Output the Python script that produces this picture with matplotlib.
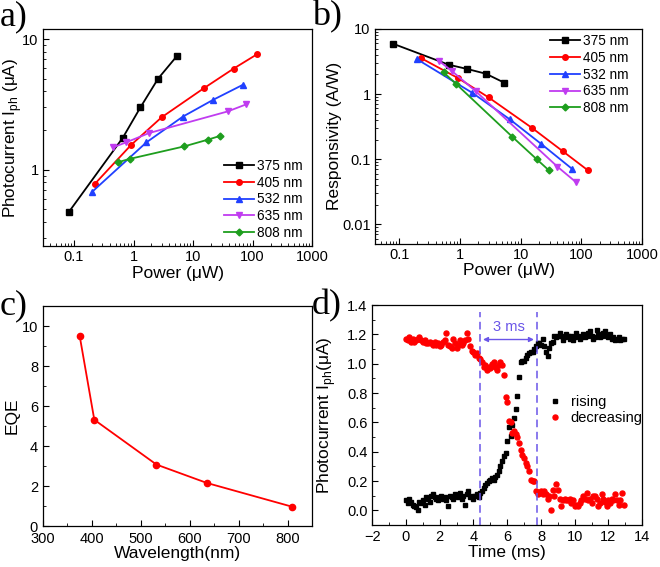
import matplotlib
matplotlib.use("Agg")
import matplotlib.pyplot as plt
import numpy as np
from matplotlib.ticker import FuncFormatter, LogLocator, AutoMinorLocator, MultipleLocator

plt.rcParams.update({
    "font.family": ["Liberation Sans", "DejaVu Sans"],
    "font.size": 9,
    "xtick.direction": "in",
    "ytick.direction": "in",
    "axes.linewidth": 0.9,
})

# ---- data ----
labels = ["375 nm", "405 nm", "532 nm", "635 nm", "808 nm"]
colors = ["black", "#ff0000", "#2040ff", "#c03cf0", "#1e9e1e"]
markers = ["s", "o", "^", "v", "D"]

# a) photocurrent vs power
pa_375 = [0.082, 0.66, 1.30, 2.59, 5.3]
ia_375 = [0.475, 1.76, 3.0, 5.0, 7.4]
pa_405 = [0.224, 0.91, 2.95, 15.0, 48, 120]
ia_405 = [0.78, 1.55, 2.52, 4.2, 5.96, 7.7]
pa_532 = [0.20, 1.64, 6.7, 21.6, 68.7]
ia_532 = [0.675, 1.62, 2.55, 3.43, 4.48]
pa_635 = [0.46, 0.75, 1.82, 38.3, 78]
ia_635 = [1.49, 1.62, 1.91, 2.80, 3.17]
pa_808 = [0.54, 0.855, 7.1, 17.7, 28.7]
ia_808 = [1.14, 1.21, 1.51, 1.70, 1.82]

# b) responsivity vs power
pb_375 = [0.079, 0.656, 1.33, 2.68, 5.4]
rb_375 = [5.94, 2.82, 2.42, 2.05, 1.49]
pb_405 = [0.227, 0.93, 2.97, 15.5, 50, 126]
rb_405 = [3.58, 1.76, 0.887, 0.30, 0.131, 0.068]
pb_532 = [0.195, 1.61, 6.6, 22, 70]
rb_532 = [3.45, 1.04, 0.41, 0.17, 0.071]
pb_635 = [0.46, 0.75, 1.83, 40, 82]
rb_635 = [3.2, 2.23, 1.1, 0.077, 0.044]
pb_808 = [0.54, 0.86, 7.3, 18.3, 29.3]
rb_808 = [2.15, 1.44, 0.22, 0.10, 0.067]

# c) EQE vs wavelength
wavelength = [375, 405, 532, 635, 808]
eqe = [9.53, 5.32, 3.08, 2.16, 0.98]

# d) time response, sampled every 0.1 ms from 0 to 12.9 ms
time_ms = np.round(np.arange(0, 13.0, 0.1), 1)
rising = [
    0.07, 0.05, 0.08, 0.06, 0.04, 0.03, 0.02, 0.00, 0.06, 0.05,
    0.07, 0.04, 0.09, 0.08, 0.06, 0.10, 0.11, 0.09, 0.08, 0.07,
    0.09, 0.10, 0.08, 0.09, 0.07, 0.03, 0.10, 0.09, 0.08, 0.11,
    0.10, 0.09, 0.12, 0.08, 0.10, 0.04, 0.11, 0.13, 0.09, 0.10,
    0.08, 0.10, 0.11, 0.09, 0.12, 0.13, 0.15, 0.17, 0.19, 0.20,
    0.21, 0.22, 0.21, 0.23, 0.24, 0.27, 0.30, 0.34, 0.37, 0.39,
    0.47, 0.57, 0.51, 0.58, 0.63, 0.69, 0.78, 0.91, 1.01, 1.02,
    1.02, 1.04, 1.06, 1.07, 1.08, 1.08, 1.10, 1.12, 1.14, 1.14,
    1.13, 1.17, 1.12, 1.08, 1.05, 1.11, 1.14, 1.15, 1.19, 1.18,
    1.19, 1.21, 1.19, 1.16, 1.18, 1.20, 1.19, 1.17, 1.19, 1.16,
    1.18, 1.21, 1.19, 1.17, 1.18, 1.20, 1.18, 1.19, 1.21, 1.22,
    1.19, 1.17, 1.18, 1.23, 1.20, 1.18, 1.19, 1.21, 1.22, 1.19,
    1.18, 1.20, 1.17, 1.18, 1.16, 1.17, 1.18, 1.16, 1.17, 1.17,
]
decreasing = [
    1.17, 1.16, 1.18, 1.15, 1.17, 1.15, 1.16, 1.17, 1.18, 1.16,
    1.15, 1.16, 1.14, 1.14, 1.15, 1.14, 1.13, 1.15, 1.13, 1.14,
    1.12, 1.13, 1.15, 1.16, 1.21, 1.13, 1.12, 1.11, 1.17, 1.14,
    1.11, 1.13, 1.16, 1.13, 1.14, 1.16, 1.21, 1.17, 1.12, 1.09,
    1.08, 1.06, 1.07, 1.04, 1.03, 1.01, 0.98, 0.99, 0.96, 0.98,
    0.97, 1.00, 1.01, 0.98, 0.96, 0.99, 1.01, 0.99, 0.92, 0.77,
    0.74, 0.61, 0.60, 0.53, 0.54, 0.52, 0.50, 0.46, 0.41, 0.38,
    0.36, 0.32, 0.30, 0.27, 0.21, 0.20, 0.20, 0.13, 0.11, 0.12,
    0.13, 0.11, 0.13, 0.11, 0.08, 0.10, 0.00, 0.14, 0.10, 0.18,
    0.14, 0.08, 0.03, 0.07, 0.08, 0.07, 0.07, 0.08, 0.05, 0.07,
    0.03, 0.04, 0.03, 0.05, 0.07, 0.10, 0.08, 0.12, 0.07, 0.08,
    0.05, 0.10, 0.10, 0.08, 0.03, 0.05, 0.11, 0.08, 0.06, 0.03,
    0.07, 0.05, 0.08, 0.07, 0.11, 0.07, 0.04, 0.07, 0.12, 0.04,
]
t_on, t_off = 4.4, 7.75

fig = plt.figure(figsize=(6.6, 5.67), dpi=100)
ax_a = fig.add_axes([0.065, 0.566, 0.408, 0.383])
ax_b = fig.add_axes([0.568, 0.570, 0.405, 0.379])
ax_c = fig.add_axes([0.065, 0.072, 0.408, 0.388])
ax_d = fig.add_axes([0.564, 0.074, 0.409, 0.388])

plain = FuncFormatter(lambda v, _: f"{v:g}")


def style_log(ax):
    ax.set_xscale("log")
    ax.set_yscale("log")
    ax.xaxis.set_major_locator(LogLocator(base=10, numticks=10))
    ax.xaxis.set_minor_locator(LogLocator(base=10, subs=np.arange(2, 10), numticks=20))
    ax.yaxis.set_minor_locator(LogLocator(base=10, subs=np.arange(2, 10), numticks=20))
    ax.xaxis.set_major_formatter(plain)
    ax.yaxis.set_major_formatter(plain)
    ax.tick_params(which="major", length=4, labelsize=10.5, pad=3)
    ax.tick_params(which="minor", length=2)


leg_kw = dict(frameon=False, fontsize=9.8, handlelength=2.2, handletextpad=0.25,
              labelspacing=0.2, borderaxespad=0.3)

# a)
sets_a = [(pa_375, ia_375), (pa_405, ia_405), (pa_532, ia_532), (pa_635, ia_635), (pa_808, ia_808)]
for (x, y), c, m, lab in zip(sets_a, colors, markers, labels):
    ax_a.plot(x, y, color=c, marker=m, ms=4 if m != "D" else 3.5, lw=1.3, label=lab)
style_log(ax_a)
ax_a.set_xlim(0.03, 1000)
ax_a.set_ylim(0.26, 12)
ax_a.yaxis.set_major_locator(LogLocator(base=10, subs=[1.0], numticks=5))
ax_a.set_xlabel("Power (\u03bcW)", fontsize=12.5, labelpad=1)
ax_a.set_ylabel("Photocurrent I$_{\\mathregular{ph}}$ (\u03bcA)", fontsize=12.3)
ax_a.yaxis.set_label_coords(-0.07, 0.5)
ax_a.legend(loc="lower right", bbox_to_anchor=(1.0, -0.015), **leg_kw)

# b)
sets_b = [(pb_375, rb_375), (pb_405, rb_405), (pb_532, rb_532), (pb_635, rb_635), (pb_808, rb_808)]
for (x, y), c, m, lab in zip(sets_b, colors, markers, labels):
    ax_b.plot(x, y, color=c, marker=m, ms=4 if m != "D" else 3.5, lw=1.3, label=lab)
style_log(ax_b)
ax_b.set_xlim(0.04, 1000)
ax_b.set_ylim(0.005, 10)
ax_b.set_xlabel("Power (\u03bcW)", fontsize=12.5, labelpad=1)
ax_b.set_ylabel("Responsivity (A/W)", fontsize=12.5)
ax_b.yaxis.set_label_coords(-0.124, 0.5)
ax_b.legend(loc="upper right", bbox_to_anchor=(0.985, 1.02), **leg_kw)

# c)
ax_c.plot(wavelength, eqe, color="#ff0000", marker="o", ms=4.5, lw=1.3)
ax_c.set_xlim(300, 850)
ax_c.set_ylim(0, 11)
ax_c.xaxis.set_major_locator(MultipleLocator(100))
ax_c.yaxis.set_major_locator(MultipleLocator(2))
ax_c.xaxis.set_minor_locator(AutoMinorLocator(2))
ax_c.yaxis.set_minor_locator(AutoMinorLocator(2))
ax_c.tick_params(which="major", length=4, labelsize=10.5)
ax_c.tick_params(which="minor", length=2)
ax_c.tick_params(axis="x", pad=4.5)
ax_c.set_xlabel("Wavelength(nm)", fontsize=12.5, labelpad=0)
ax_c.set_ylabel("EQE", fontsize=12.5)
ax_c.yaxis.set_label_coords(-0.085, 0.5)

# d)
ax_d.plot(time_ms, rising, ls="none", marker="s", ms=3.3, color="black", label="rising")
ax_d.plot(time_ms, decreasing, ls="none", marker="o", ms=3.6, color="#ff0000", label="decreasing")
dash_c = "#6a55e8"
for tv in (t_on, t_off):
    ax_d.plot([tv, tv], [-0.1, 1.35], color=dash_c, ls=(0, (5, 3)), lw=1.1)
ax_d.annotate("", xy=(t_on, 1.165), xytext=(t_off, 1.165),
              arrowprops=dict(arrowstyle="<|-|>", color=dash_c, lw=1.0, mutation_scale=7))
ax_d.text((t_on + t_off) / 2, 1.205, "3 ms", color=dash_c, ha="center", va="bottom", fontsize=10.5)
ax_d.set_xlim(-2, 14)
ax_d.set_ylim(-0.1, 1.4)
ax_d.xaxis.set_major_locator(MultipleLocator(2))
ax_d.yaxis.set_major_locator(MultipleLocator(0.2))
ax_d.xaxis.set_minor_locator(AutoMinorLocator(2))
ax_d.yaxis.set_minor_locator(AutoMinorLocator(2))
ax_d.yaxis.set_major_formatter(FuncFormatter(lambda v, _: f"{v:.1f}"))
ax_d.tick_params(which="major", length=4, labelsize=10.5)
ax_d.tick_params(which="minor", length=2)
ax_d.set_xlabel("Time (ms)", fontsize=12.5, labelpad=1)
ax_d.set_ylabel("Photocurrent I$_{\\mathregular{ph}}$(\u03bcA)", fontsize=12.5)
ax_d.yaxis.set_label_coords(-0.126, 0.5)
ax_d.legend(loc="upper left", bbox_to_anchor=(0.6, 0.65), frameon=False, fontsize=10.5,
            handlelength=1.0, handletextpad=0.6, labelspacing=0.15, markerscale=1.0)

# panel letters
for lab, x, y in [("a)", 0.0, 1.0), ("b)", 0.473, 1.0), ("c)", 0.0, 0.49), ("d)", 0.473, 0.49)]:
    fig.text(x, y, lab, fontsize=26, family=["Liberation Serif", "DejaVu Serif"], ha="left", va="top")

fig.savefig("out.png", dpi=100)
